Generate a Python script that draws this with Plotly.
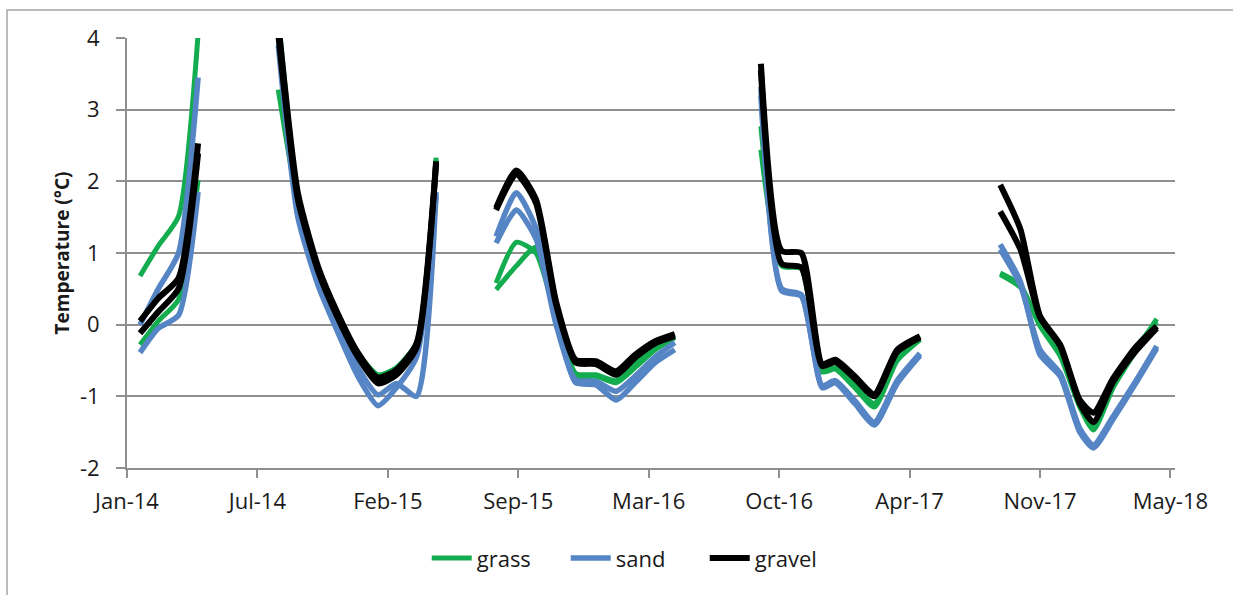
import plotly.graph_objects as go

# Sampling dates of each winter record; the records are separated by gaps
dates_2014a = ["2014-01-31", "2014-02-28", "2014-03-31", "2014-04-30"]
dates_2014b = ["2014-08-31", "2014-09-30", "2014-10-31", "2014-11-30", "2014-12-31",
               "2015-01-31", "2015-02-28", "2015-03-31", "2015-04-30"]
dates_2015 = ["2015-07-31", "2015-08-31", "2015-09-30", "2015-10-31", "2015-11-30",
              "2015-12-31", "2016-01-31", "2016-02-29", "2016-03-31", "2016-04-30"]
dates_2016 = ["2016-09-09", "2016-10-11", "2016-11-10", "2016-12-12", "2017-01-01",
              "2017-01-31", "2017-03-02", "2017-04-06", "2017-05-11"]
dates_2017 = ["2017-09-11", "2017-10-12", "2017-11-11", "2017-12-12", "2018-01-11",
              "2018-02-01", "2018-03-03", "2018-04-06", "2018-05-09"]

# Soil temperature (°C), two sensors per surface type, one list per record
grass_1 = [
    [0.68, 1.10, 1.51, 4.05],
    [3.28, 1.70, 0.80, 0.15, -0.40, -0.70, -0.60, -0.25, 2.33],
    [0.58, 1.15, 1.00, 0.10, -0.72, -0.72, -0.81, -0.60, -0.35, -0.18],
    [2.77, 0.85, 0.80, -0.66, -0.62, -0.88, -1.15, -0.50, -0.21],
    [0.72, 0.55, -0.02, -0.44, -1.15, -1.47, -0.88, -0.38, 0.08],
]
grass_2 = [
    [-0.28, 0.05, 0.35, 2.02],
    [4.30, 1.80, 0.78, 0.12, -0.42, -0.80, -0.68, -0.30, 2.30],
    [0.49, 0.82, 1.08, 0.15, -0.68, -0.70, -0.78, -0.55, -0.30, -0.15],
    [2.44, 0.82, 0.78, -0.65, -0.60, -0.85, -1.10, -0.45, -0.20],
    [0.70, 0.52, 0.02, -0.40, -1.10, -1.40, -0.82, -0.33, 0.04],
]
sand_1 = [
    [0.00, 0.50, 1.00, 3.45],
    [3.90, 1.50, 0.55, -0.10, -0.72, -1.13, -0.88, -0.45, 1.80],
    [1.23, 1.84, 1.35, 0.05, -0.81, -0.84, -1.05, -0.81, -0.53, -0.35],
    [3.32, 0.50, 0.42, -0.88, -0.81, -1.10, -1.40, -0.82, -0.43],
    [1.12, 0.60, -0.42, -0.72, -1.50, -1.72, -1.32, -0.83, -0.33],
]
sand_2 = [
    [-0.39, -0.05, 0.13, 1.85],
    [4.10, 1.65, 0.65, 0.00, -0.60, -0.98, -0.82, -1.00, 1.85],
    [1.14, 1.60, 1.20, 0.00, -0.77, -0.79, -0.93, -0.72, -0.45, -0.25],
    [3.20, 0.47, 0.40, -0.85, -0.78, -1.06, -1.36, -0.78, -0.40],
    [1.05, 0.55, -0.35, -0.68, -1.45, -1.68, -1.28, -0.80, -0.30],
]
gravel_1 = [
    [0.05, 0.37, 0.65, 2.53],
    [4.20, 1.84, 0.81, 0.16, -0.39, -0.74, -0.63, -0.26, 2.28],
    [1.63, 2.15, 1.75, 0.32, -0.49, -0.51, -0.65, -0.42, -0.23, -0.13],
    [3.64, 1.03, 1.00, -0.55, -0.49, -0.72, -0.97, -0.35, -0.16],
    [1.95, 1.33, 0.12, -0.28, -1.05, -1.23, -0.75, -0.32, -0.02],
]
gravel_2 = [
    [-0.12, 0.18, 0.50, 2.39],
    [4.05, 1.75, 0.75, 0.10, -0.45, -0.82, -0.70, -0.32, 2.25],
    [1.60, 2.10, 1.70, 0.28, -0.53, -0.55, -0.70, -0.46, -0.26, -0.16],
    [3.55, 0.85, 0.80, -0.58, -0.52, -0.75, -1.00, -0.38, -0.18],
    [1.58, 1.05, 0.10, -0.30, -1.10, -1.36, -0.80, -0.38, -0.05],
]

# Temperature axis ticks (plain hyphen for negatives)
y_tick_values = [-2, -1, 0, 1, 2, 3, 4]
y_tick_labels = ["-2", "-1", "0", "1", "2", "3", "4"]

record_dates = [dates_2014a, dates_2014b, dates_2015, dates_2016, dates_2017]

surfaces = [
    ("grass", "#13ad4f", 5, [grass_1, grass_2]),
    ("sand", "#5585c5", 5.5, [sand_1, sand_2]),
    ("gravel", "#000000", 6, [gravel_1, gravel_2]),
]


def join_records(values):
    xs, ys = [], []
    for d, v in zip(record_dates, values):
        xs += d + [None]
        ys += v + [None]
    return xs, ys


fig = go.Figure()
for name, color, width, sensors in surfaces:
    for i, sensor in enumerate(sensors):
        xs, ys = join_records(sensor)
        fig.add_trace(go.Scatter(
            x=xs, y=ys, mode="lines", name=name, legendgroup=name,
            showlegend=(i == 0), connectgaps=False,
            line=dict(color=color, width=width, shape="spline", smoothing=0.6),
        ))

grid = "#8f8f8f"
fig.update_layout(
    width=1233, height=595,
    margin=dict(l=127, r=58, t=38, b=127),
    paper_bgcolor="white", plot_bgcolor="white",
    font=dict(family="Open Sans", size=22, color="#1a1a1a"),
    showlegend=True,
    legend=dict(orientation="h", x=0.286, xanchor="left", y=-0.21, yanchor="middle",
                font=dict(size=22), itemwidth=40, entrywidth=84,
                entrywidthmode="pixels", traceorder="normal"),
    shapes=[dict(type="rect", xref="paper", yref="paper",
                 x0=-0.1145, x1=1.07, y0=-0.35, y1=1.0651,
                 line=dict(color="#a6a6a6", width=1.5), layer="below")],
)
fig.update_xaxes(
    type="date", range=["2014-01-11", "2018-06-06"],
    tick0="2014-01-11", dtick=200 * 86400000, tickformat="%b-%y",
    showgrid=False, showline=True, linecolor=grid, linewidth=2,
    ticks="outside", ticklen=8, tickwidth=2, tickcolor=grid,
    ticklabelstandoff=5,
)
fig.update_yaxes(
    range=[-2, 4], tickmode="array", tickvals=y_tick_values, ticktext=y_tick_labels,
    showgrid=True, gridcolor=grid, gridwidth=2,
    zeroline=False, showline=True, linecolor=grid, linewidth=2,
    ticks="outside", ticklen=9, tickwidth=2, tickcolor=grid,
    ticklabelstandoff=12,
    title=dict(text="<b>Temperature (°C)</b>", font=dict(size=19), standoff=5),
)

fig.write_html("out.html")
